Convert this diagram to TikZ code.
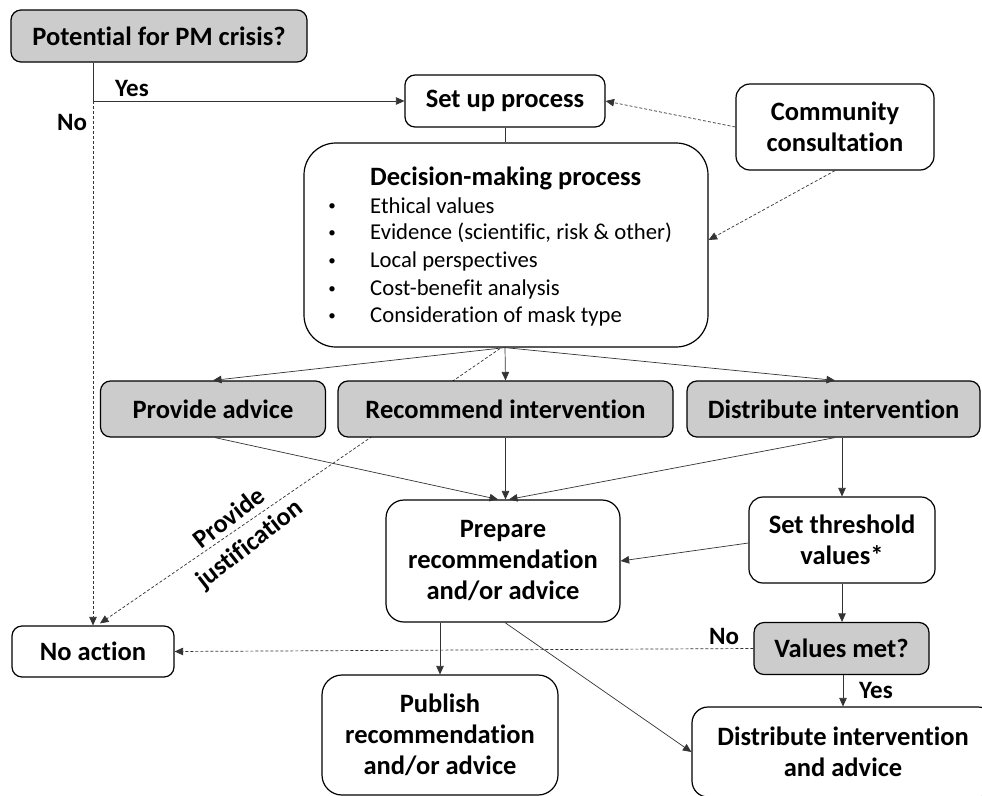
\documentclass[tikz,border=0pt]{standalone}
\usepackage{fontspec}
\setmainfont{Carlito}[RawFeature=-liga]
\usetikzlibrary{arrows.meta,calc}
\pgfdeclarelayer{bg}
\pgfsetlayers{bg,main}
\definecolor{boxgray}{HTML}{CCCCCC}
\definecolor{linec}{HTML}{333333}
\begin{document}
\begin{tikzpicture}[x=1pt,y=-1pt,
  box/.style={draw, line width=1.2pt, rounded corners=10pt, align=center, inner sep=0pt,
    font=\bfseries\fontsize{26.5}{31}\selectfont},
  gbox/.style={box, fill=boxgray},
  conn/.style={line width=0.7pt, draw=linec},
  arr/.style={conn, -{Triangle[length=8.5pt,width=7.5pt]}},
  darr/.style={arr, dash pattern=on 3pt off 2pt},
  lbl/.style={font=\bfseries\fontsize{25}{30}\selectfont, inner sep=0pt},
  item/.style={font=\fontsize{22.7}{27}\selectfont, anchor=west, inner sep=0pt},
  bul/.style={font=\fontsize{15}{18}\selectfont, inner sep=0pt}]
\useasboundingbox (0,0) rectangle (982,795);

% nodes
\node[gbox, minimum width=296pt, minimum height=52pt] (pot) at (159,36) {Potential for PM crisis?};
\node[box, minimum width=200pt, minimum height=52pt] (setup) at (505,101) {Set up process};
\node[box, minimum width=198pt, minimum height=86pt, rounded corners=14pt] (comm) at (835,127) {Community\\consultation};
\node[box, minimum width=404pt, minimum height=204pt, rounded corners=32pt] (dm) at (506,245) {};
\node[font=\bfseries\fontsize{26.5}{31}\selectfont, anchor=west, inner sep=0pt] (dmt) at (370,178) {Decision-making process};
\node[bul] (b1) at (332,207) {•};
\node[bul] (b2) at (332,234) {•};
\node[bul] (b3) at (332,262) {•};
\node[bul] (b4) at (332,290) {•};
\node[bul] (b5) at (332,317) {•};
\node[item] (i1) at (370,206) {Ethical values};
\node[item] (i2) at (370,233) {Evidence (scientific, risk \& other)};
\node[item] (i3) at (370,261) {Local perspectives};
\node[item] (i4) at (370,289) {Cost-benefit analysis};
\node[item] (i5) at (370,316) {Consideration of mask type};

\node[gbox, minimum width=225pt, minimum height=56pt] (pa) at (213,409) {Provide advice};
\node[gbox, minimum width=335pt, minimum height=56pt] (ri) at (505.5,409) {Recommend intervention};
\node[gbox, minimum width=293pt, minimum height=56pt] (di) at (833.5,409) {Distribute intervention};

\node[box, minimum width=234pt, minimum height=122pt, rounded corners=18pt] (prep) at (503,561) {Prepare\\recommendation\\and/or advice};
\node[box, minimum width=186pt, minimum height=86pt, rounded corners=14pt] (thr) at (842,540) {Set threshold\\values*};
\node[gbox, minimum width=175pt, minimum height=52pt] (vm) at (841.5,648.5) {Values met?};
\node[box, minimum width=162pt, minimum height=51pt] (na) at (93,651.5) {No action};
\node[box, minimum width=236pt, minimum height=120pt, rounded corners=20pt] (pub) at (440,735) {Publish\\recommendation\\and/or advice};
\node[box, minimum width=302pt, minimum height=90pt, rounded corners=16pt] (dia) at (843,752) {Distribute intervention\\and advice};

% labels
\node[lbl] (yes1) at (132,88) {Yes};
\node[lbl] (no1) at (72,122) {No};
\node[lbl] (no2) at (724,636) {No};
\node[lbl] (yes2) at (876,690) {Yes};
\node[rotate=38, align=center, font=\bfseries\fontsize{26}{33}\selectfont, inner sep=0pt] (pj) at (240,532) {Provide\\justification};

% connectors
\coordinate (yesc) at (na.north |- setup.west);
\draw[conn] (pot.south -| na.north) -- (yesc);
\draw[arr] (yesc) -- (setup.west);
\draw[darr] (yesc) -- (na.north);
\draw[conn] (setup.south) -- (setup.south |- dm.north);
\draw[darr] (comm.west) -- (setup.east);
\draw[darr] (comm.south) -- ($(dm.east)+(0,-5)$);

\coordinate (dmb) at ($(dm.south)+(-1,0)$);
\draw[arr] (dmb) -- (pa.north);
\draw[arr] (dmb) -- (ri.north);
\draw[arr] (dmb) -- ($(di.north)+(1.5,0)$);

\begin{pgfonlayer}{bg}
\draw[darr] ($(dm.south)+(-6,1)$) -- ($(na.north)+(7,-2)$);
\end{pgfonlayer}

\draw[arr] ($(pa.south)+(2,0)$) -- ($(prep.north)+(-5,0)$);
\draw[arr] (ri.south) -- (ri.south |- prep.north);
\draw[arr] ($(di.south)+(1.5,0)$) -- ($(prep.north)+(6,0)$);
\draw[arr] (thr.north |- di.south) -- (thr.north);
\draw[arr] ($(thr.west)+(0,3)$) -- (prep.east);
\draw[arr] (thr.south) -- (thr.south |- vm.north);
\draw[darr] (vm.west) -- (na.east);
\coordinate (vms) at ($(vm.south)+(1.5,0)$);
\draw[arr] (vms) -- (vms |- dia.north);
\draw[arr] (pub.north |- prep.south) -- (pub.north);
\draw[arr] ($(prep.south)+(2,0)$) -- (dia.west);
\end{tikzpicture}
\end{document}
